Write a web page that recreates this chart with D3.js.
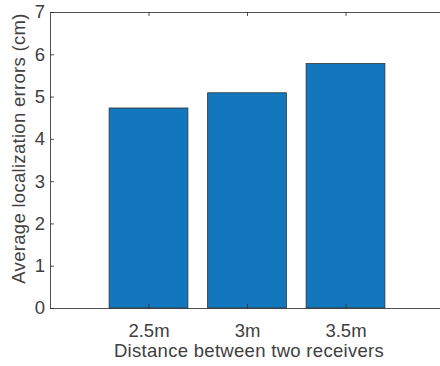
<!DOCTYPE html>
<html>
<head>
<meta charset="utf-8">
<script src="https://cdn.jsdelivr.net/npm/d3@7"></script>
<style>
  html, body { margin: 0; padding: 0; background: #fff; }
  svg { display: block; font-family: "Liberation Sans", Arial, Helvetica, sans-serif; }
</style>
</head>
<body>
<svg id="chart" width="440" height="366"></svg>
<script>
// Average localization error for each receiver spacing
const categories = ["2.5m", "3m", "3.5m"];
const errors = [4.73, 5.09, 5.78];
const yTicks = [0, 1, 2, 3, 4, 5, 6, 7];

const svg = d3.select("#chart");
const margin = { left: 50, top: 12, right: -4, bottom: 58 };
const W = 440, H = 366;
const x0 = margin.left, x1 = W - margin.right;
const y0 = H - margin.bottom, y1 = margin.top;

const axisColor = "#262626";
const textColor = "#404040";
const fontSize = 18.5;

// Bars sit at positions 1..n inside a [0, n+1] range
const x = d3.scaleLinear().domain([0, categories.length + 1]).range([x0, x1]);
const y = d3.scaleLinear().domain([0, 7]).range([y0, y1]);
const barW = (x(1) - x(0)) * 0.8;

svg.append("g")
  .selectAll("rect")
  .data(errors)
  .join("rect")
  .attr("x", (d, i) => x(i + 1) - barW / 2)
  .attr("y", d => y(d))
  .attr("width", barW)
  .attr("height", d => y(0) - y(d))
  .attr("fill", "#1377BD")
  .attr("stroke", "#333")
  .attr("stroke-width", 0.8);

const tickLen = 4;
const xTickPos = categories.map((c, i) => i + 1);

// Bottom axis (ticks point inward)
const axBottom = svg.append("g").attr("transform", `translate(0,${y0})`)
  .call(d3.axisBottom(x).tickValues(xTickPos).tickFormat((d, i) => categories[i])
    .tickSizeInner(-tickLen).tickSizeOuter(0).tickPadding(14));
// Top axis
const axTop = svg.append("g").attr("transform", `translate(0,${y1})`)
  .call(d3.axisTop(x).tickValues(xTickPos).tickFormat("")
    .tickSizeInner(-tickLen).tickSizeOuter(0));
// Left axis
const axLeft = svg.append("g").attr("transform", `translate(${x0},0)`)
  .call(d3.axisLeft(y).tickValues(yTicks).tickFormat(d3.format("d"))
    .tickSizeInner(-tickLen).tickSizeOuter(0).tickPadding(5));
// Right axis
const axRight = svg.append("g").attr("transform", `translate(${x1},0)`)
  .call(d3.axisRight(y).tickValues(yTicks).tickFormat("")
    .tickSizeInner(-tickLen).tickSizeOuter(0));

[axBottom, axTop, axLeft, axRight].forEach(g => {
  g.select(".domain").attr("stroke", axisColor).attr("stroke-width", 0.8);
  g.selectAll(".tick line").attr("stroke", axisColor).attr("stroke-width", 0.8);
  g.selectAll(".tick text").attr("fill", textColor).attr("font-size", fontSize)
    .attr("font-family", "Liberation Sans, Arial, sans-serif");
});
axBottom.selectAll(".tick text").attr("dy", null).attr("y", 28.5);

// Axis titles
svg.append("text")
  .attr("x", 249)
  .attr("y", 356.5)
  .attr("text-anchor", "middle")
  .attr("fill", textColor)
  .attr("font-size", fontSize)
  .attr("letter-spacing", 0.3)
  .text("Distance between two receivers");

svg.append("text")
  .attr("transform", "translate(25,148.5) rotate(-90)")
  .attr("text-anchor", "middle")
  .attr("fill", textColor)
  .attr("font-size", fontSize)
  .attr("letter-spacing", 0.3)
  .text("Average localization errors (cm)");
</script>
</body>
</html>
